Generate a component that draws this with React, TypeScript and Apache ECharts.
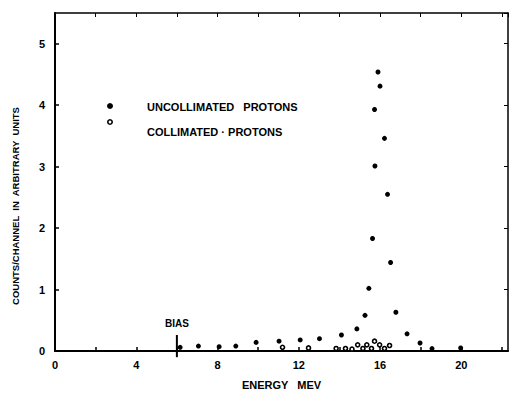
import React, { useEffect, useRef } from "react";
import * as echarts from "echarts";

const uncollimatedEnergy = [6.16, 7.06, 8.08, 8.9, 9.9, 11.03, 12.07, 13.02, 14.1, 14.86, 15.26, 15.45, 15.63, 15.73, 15.75, 15.9, 16.0, 16.22, 16.37, 16.52, 16.78, 17.33, 17.97, 18.56, 19.97];
const uncollimatedCounts = [0.06, 0.08, 0.07, 0.08, 0.14, 0.16, 0.18, 0.2, 0.26, 0.36, 0.58, 1.02, 1.83, 3.93, 3.01, 4.54, 4.31, 3.46, 2.55, 1.44, 0.63, 0.28, 0.13, 0.04, 0.05];

const collimatedEnergy = [11.2, 12.48, 13.84, 14.3, 14.62, 14.9, 15.16, 15.35, 15.58, 15.73, 15.98, 16.22, 16.47];
const collimatedCounts = [0.06, 0.05, 0.04, 0.04, 0.03, 0.1, 0.04, 0.1, 0.04, 0.16, 0.1, 0.04, 0.09];

const xTickLabels = ["0", "4", "8", "12", "16", "20"];
const yTickLabels = ["0", "1", "2", "3", "4", "5"];

const biasEnergy = 6;
const biasLine = [-0.1, 0.26];

const FONT = "Liberation Sans";

export default function App() {
  const ref = useRef<HTMLDivElement>(null);
  useEffect(() => {
    if (!ref.current) return;
    const chart = echarts.init(ref.current, null, { renderer: "svg" });
    const axisLine = { show: true, onZero: false, lineStyle: { color: "#000", width: 2 } };
    const thinLine = { show: true, onZero: false, lineStyle: { color: "#000", width: 1.5 } };
    const option: any = {
      animation: false,
      backgroundColor: "#fff",
      grid: { left: 55, right: 5, top: 13, bottom: 42, containLabel: false },
      xAxis: [
        {
          type: "value",
          min: 0,
          max: 22.3,
          interval: 2,
          position: "bottom",
          axisLine,
          axisTick: { show: true, inside: true, length: 4, lineStyle: { color: "#000", width: 1.5 } },
          splitLine: { show: false },
          axisLabel: {
            color: "#000",
            fontFamily: FONT,
            fontWeight: "bold",
            fontSize: 11,
            margin: 8,
            showMaxLabel: false,
            formatter: (v: number) => {
              const s = String(Math.round(v));
              return Math.abs(v % 4) < 1e-6 && xTickLabels.includes(s) ? s : "";
            },
          },
          name: "ENERGY   MEV",
          nameLocation: "middle",
          nameGap: 28,
          nameTextStyle: { color: "#000", fontFamily: FONT, fontWeight: "bold", fontSize: 11 },
        },
        {
          type: "value",
          min: 0,
          max: 22.3,
          interval: 2,
          position: "top",
          axisLine: thinLine,
          axisTick: { show: true, inside: true, length: 4, lineStyle: { color: "#000", width: 1 } },
          axisLabel: { show: false },
          splitLine: { show: false },
        },
      ],
      yAxis: [
        {
          type: "value",
          min: 0,
          max: 5.5,
          interval: 1,
          position: "left",
          axisLine,
          axisTick: { show: true, inside: true, length: 4, lineStyle: { color: "#000", width: 1.5 } },
          splitLine: { show: false },
          axisLabel: {
            color: "#000",
            fontFamily: FONT,
            fontWeight: "bold",
            fontSize: 11,
            margin: 10,
            showMaxLabel: false,
            formatter: (v: number) => {
              const s = String(Math.round(v));
              return Math.abs(v - Math.round(v)) < 1e-6 && yTickLabels.includes(s) ? s : "";
            },
          },
        },
        {
          type: "value",
          min: 0,
          max: 5.5,
          interval: 1,
          position: "right",
          axisLine: thinLine,
          axisTick: { show: true, inside: true, length: 4, lineStyle: { color: "#000", width: 1 } },
          axisLabel: { show: false },
          splitLine: { show: false },
        },
      ],
      series: [
        {
          name: "UNCOLLIMATED PROTONS",
          type: "scatter",
          symbol: "circle",
          symbolSize: 5,
          itemStyle: { color: "#000", opacity: 1 },
          data: uncollimatedEnergy.map((e, i) => [e, uncollimatedCounts[i]]),
          z: 5,
        },
        {
          name: "COLLIMATED PROTONS",
          type: "scatter",
          symbol: "circle",
          symbolSize: 4,
          itemStyle: { color: "#fff", borderColor: "#000", borderWidth: 1.6, opacity: 1 },
          data: collimatedEnergy.map((e, i) => [e, collimatedCounts[i]]),
          z: 6,
        },
        {
          name: "BIAS",
          type: "line",
          clip: false,
          symbol: "none",
          lineStyle: { color: "#000", width: 2 },
          data: [
            [biasEnergy, biasLine[0]],
            [biasEnergy, biasLine[1]],
          ],
          z: 4,
        },
        {
          name: "BIAS label",
          type: "scatter",
          clip: false,
          symbol: "circle",
          symbolSize: 0,
          itemStyle: { opacity: 1 },
          data: [[biasEnergy, biasLine[1]]],
          label: {
            show: true,
            position: "top",
            formatter: "BIAS",
            distance: 7,
            color: "#000",
            fontFamily: FONT,
            fontWeight: "bold",
            fontSize: 10,
          },
          z: 4,
        },
      ],
      graphic: [
        {
          type: "text",
          x: 15,
          y: 206,
          rotation: Math.PI / 2,
          style: {
            text: "COUNTS/CHANNEL  IN  ARBITRARY  UNITS",
            fill: "#000",
            font: `bold 9.5px "${FONT}"`,
            align: "center",
            verticalAlign: "middle",
          },
        },
        {
          type: "circle",
          shape: { cx: 110, cy: 106, r: 3 },
          style: { fill: "#000" },
        },
        {
          type: "circle",
          shape: { cx: 110, cy: 122, r: 2.2 },
          style: { fill: "#fff", stroke: "#000", lineWidth: 1.6 },
        },
        {
          type: "text",
          x: 147,
          y: 107,
          style: {
            text: "UNCOLLIMATED   PROTONS",
            fill: "#000",
            font: `bold 11px "${FONT}"`,
            align: "left",
            verticalAlign: "middle",
          },
        },
        {
          type: "text",
          x: 147,
          y: 132,
          style: {
            text: "COLLIMATED \u00b7 PROTONS",
            fill: "#000",
            font: `bold 11px "${FONT}"`,
            align: "left",
            verticalAlign: "middle",
          },
        },
      ],
    };
    chart.setOption(option);
    return () => chart.dispose();
  }, []);
  return <div ref={ref} style={{ width: 513, height: 395, position: "absolute", left: 0, top: 0 }} />;
}
